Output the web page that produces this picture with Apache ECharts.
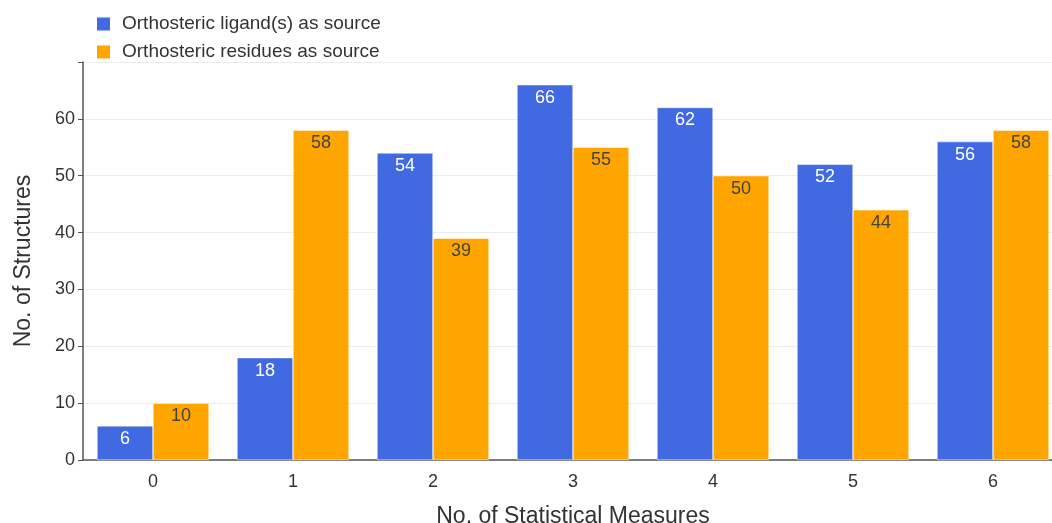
<!DOCTYPE html>
<html>
<head>
<meta charset="utf-8">
<script src="https://cdn.jsdelivr.net/npm/echarts@6/dist/echarts.min.js"></script>
<style>html,body{margin:0;padding:0;background:#fff;}#c{width:1052px;height:523px;}</style>
</head>
<body>
<div id="c"></div>
<script>
const categories = ['0','1','2','3','4','5','6'];
const ligandValues = [6, 18, 54, 66, 62, 52, 56];
const residueValues = [10, 58, 39, 55, 50, 44, 58];
const seriesNames = ['Orthosteric ligand(s) as source', 'Orthosteric residues as source'];

const font = '"Liberation Sans", Arial, sans-serif';
const chart = echarts.init(document.getElementById('c'));
chart.setOption({
  animation: false,
  textStyle: { fontFamily: font },
  legend: {
    orient: 'vertical', left: 92, top: 9,
    itemWidth: 13, itemHeight: 13, itemGap: 8,
    icon: 'rect',
    itemStyle: { borderWidth: 0 },
    textStyle: { fontSize: 19, color: '#333', fontFamily: font, padding: [0,0,0,7], lineHeight: 20 },
    data: seriesNames
  },
  grid: { left: 83, top: 62, width: 980, height: 398, outerBoundsMode: 'none', containLabel: false },
  xAxis: {
    type: 'category', data: categories,
    name: 'No. of Statistical Measures', nameLocation: 'middle', nameGap: 45,
    nameTextStyle: { fontSize: 23, color: '#333', fontFamily: font },
    axisLine: { lineStyle: { color: '#555', width: 1.5 } },
    axisTick: { alignWithLabel: true, length: 5, lineStyle: { color: '#555' } },
    axisLabel: { fontSize: 18, color: '#333', margin: 13, fontFamily: font }
  },
  yAxis: {
    type: 'value', min: 0, max: 70, interval: 10,
    name: 'No. of Structures', nameLocation: 'middle', nameGap: 48,
    nameTextStyle: { fontSize: 23, color: '#333', fontFamily: font },
    axisLine: { show: true, lineStyle: { color: '#555', width: 1.5 } },
    axisTick: { show: true, length: 5, lineStyle: { color: '#555' } },
    axisLabel: { fontSize: 18, color: '#333', margin: 8, fontFamily: font,
      formatter: v => v === 70 ? '' : v },
    splitLine: { lineStyle: { color: '#ececec' } }
  },
  series: [
    {
      name: seriesNames[0], type: 'bar', data: ligandValues,
      barCategoryGap: '20%', barGap: '0%',
      itemStyle: { color: '#4169E1', borderColor: '#fff', borderWidth: 0.5 },
      label: { show: true, position: 'insideTop', distance: 4, fontSize: 18, color: '#fff', fontFamily: font }
    },
    {
      name: seriesNames[1], type: 'bar', data: residueValues,
      barCategoryGap: '20%', barGap: '0%',
      itemStyle: { color: '#FFA500', borderColor: '#fff', borderWidth: 0.5 },
      label: { show: true, position: 'insideTop', distance: 4, fontSize: 18, color: '#444', fontFamily: font }
    }
  ]
});
</script>
</body>
</html>
